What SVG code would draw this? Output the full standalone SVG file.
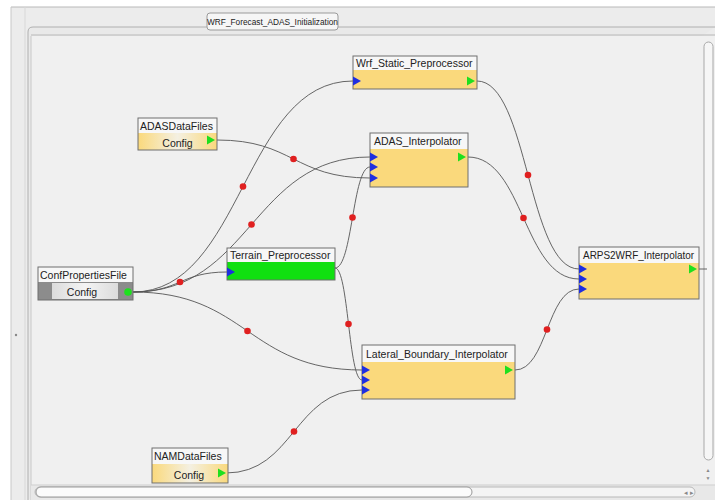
<svg xmlns="http://www.w3.org/2000/svg" width="715" height="500" viewBox="0 0 715 500">
<defs>
<style>
.t{font-family:"Liberation Sans","DejaVu Sans",Arial,sans-serif;font-size:10.5px;fill:#222}
.box{stroke:#6f6f6f;stroke-width:1}
.title{fill:#f7f7f7}
.body{fill:#fad97c}
.in{fill:#1f2fe0}
.out{fill:#1ee01e}
.c{fill:none;stroke:#555;stroke-width:0.9}
.dot{fill:#e02020}
</style>
<linearGradient id="cfg" x1="0" y1="0" x2="1" y2="0">
<stop offset="0" stop-color="#fad97c"/>
<stop offset="0.5" stop-color="#f4f0e2"/>
<stop offset="1" stop-color="#fad97c"/>
</linearGradient>
<linearGradient id="cfgg" x1="0" y1="0" x2="1" y2="0">
<stop offset="0" stop-color="#dcdcdc"/>
<stop offset="0.5" stop-color="#f4f4f4"/>
<stop offset="1" stop-color="#dcdcdc"/>
</linearGradient>
</defs>
<!-- window background -->
<rect x="0" y="0" width="715" height="500" fill="#ffffff"/>
<rect x="11" y="7" width="704" height="493" fill="#ececec"/>
<line x1="11" y1="7" x2="715" y2="7" stroke="#b8b8b8"/>
<line x1="11" y1="7" x2="11" y2="500" stroke="#c8c8c8"/>
<line x1="25" y1="7" x2="25" y2="500" stroke="#d8d8d8"/>
<circle cx="16" cy="335" r="1.2" fill="#888"/>
<!-- panel -->
<path d="M28,500 V32 Q28,27 33,27 H715" fill="#e9e9e9" stroke="#b0b0b0"/>
<line x1="31" y1="35" x2="715" y2="35" stroke="#b8b8b8"/>
<rect x="31" y="36" width="684" height="449" fill="#f0f0f0"/>
<line x1="31" y1="36" x2="31" y2="500" stroke="#c8c8c8"/>
<!-- tab -->
<rect x="207" y="13" width="131" height="17" rx="3" fill="#f6f6f6" stroke="#9a9a9a"/>
<text class="t" x="272.5" y="24.5" text-anchor="middle" style="font-size:8.3px">WRF_Forecast_ADAS_Initialization</text>
<!-- scrollbars -->
<rect x="704" y="42" width="9" height="418" rx="4.5" fill="#f6f6f6" stroke="#a8a8a8"/>
<text x="708" y="472" font-family="Liberation Sans,sans-serif" font-size="5" fill="#888" text-anchor="middle">▲</text>
<text x="708" y="480" font-family="Liberation Sans,sans-serif" font-size="5" fill="#888" text-anchor="middle">▼</text>
<rect x="31" y="485" width="684" height="15" fill="#e8e8e8"/>
<line x1="31" y1="485" x2="715" y2="485" stroke="#cfcfcf"/>
<rect x="35" y="487" width="660" height="10" rx="5" fill="#f4f4f4" stroke="#b8b8b8"/>
<rect x="36" y="487" width="436" height="10" rx="5" fill="#fbfbfb" stroke="#999"/>
<text x="684" y="495" font-family="Liberation Sans,sans-serif" font-size="7" fill="#888">◂ ▸</text>

<!-- connectors -->
<g id="connectors">
<path class="c" d="M133,292 C243,292 243,81 353,81"/>
<path class="c" d="M133,292 C251.5,292 251.5,157 370,157"/>
<path class="c" d="M217,140 C293.5,140 293.5,178 370,178"/>
<path class="c" d="M335,268 C352.5,268 352.5,167 370,167"/>
<path class="c" d="M133,292 C180,292 180,272 227,272"/>
<path class="c" d="M133,292 C247.5,292 247.5,370 362,370"/>
<path class="c" d="M335,268 C348.5,268 348.5,380 362,380"/>
<path class="c" d="M226,473 C294,473 294,390 362,390"/>
<path class="c" d="M477,81 C528,81 528,269 579,269"/>
<path class="c" d="M468,157 C523.5,157 523.5,279 579,279"/>
<path class="c" d="M515,370 C547,370 547,289 579,289"/>
<path class="c" d="M699,269 H707"/>
<circle class="dot" cx="243" cy="186.5" r="3.3"/>
<circle class="dot" cx="251.5" cy="224.5" r="3.3"/>
<circle class="dot" cx="293.5" cy="159" r="3.3"/>
<circle class="dot" cx="352.5" cy="217.5" r="3.3"/>
<circle class="dot" cx="180" cy="282" r="3.3"/>
<circle class="dot" cx="247.5" cy="331" r="3.3"/>
<circle class="dot" cx="348.5" cy="324" r="3.3"/>
<circle class="dot" cx="294" cy="431.5" r="3.3"/>
<circle class="dot" cx="528" cy="175" r="3.3"/>
<circle class="dot" cx="523.5" cy="218" r="3.3"/>
<circle class="dot" cx="547" cy="329.5" r="3.3"/>
</g>

<!-- nodes -->
<g id="Wrf_Static_Preprocessor">
<rect class="body" x="353" y="56" width="124" height="33"/>
<rect class="title" x="353" y="56" width="124" height="14"/>
<rect class="box" x="353" y="56" width="124" height="33" fill="none"/>
<text class="t" x="356" y="67">Wrf_Static_Preprocessor</text>
<polygon class="in" points="353,76.5 361,81 353,85.5"/>
<polygon class="out" points="467,76.5 475,81 467,85.5"/>
</g>

<g id="ADASDataFiles">
<rect fill="url(#cfg)" x="138" y="118" width="79" height="32"/>
<rect class="title" x="138" y="118" width="79" height="15"/>
<rect class="box" x="138" y="118" width="79" height="32" fill="none"/>
<text class="t" x="140" y="129.5">ADASDataFiles</text>
<text class="t" x="177.5" y="146.5" text-anchor="middle">Config</text>
<polygon class="out" points="207,135.5 215,140 207,144.5"/>
</g>
<g id="ADAS_Interpolator">
<rect class="body" x="370" y="133" width="98" height="54"/>
<rect class="title" x="370" y="133" width="98" height="16"/>
<rect class="box" x="370" y="133" width="98" height="54" fill="none"/>
<text class="t" x="374" y="145">ADAS_Interpolator</text>
<polygon class="in" points="370,152.5 378,157 370,161.5"/>
<polygon class="in" points="370,162.5 378,167 370,171.5"/>
<polygon class="in" points="370,173.5 378,178 370,182.5"/>
<polygon class="out" points="458,152.5 466,157 458,161.5"/>
</g>

<g id="ConfPropertiesFile">
<rect fill="#8c8c8c" x="38" y="267" width="95" height="33"/>
<rect class="title" x="38" y="267" width="95" height="15"/>
<rect fill="url(#cfgg)" x="52" y="283" width="66" height="16"/>
<rect class="box" x="38" y="267" width="95" height="33" fill="none"/>
<text class="t" x="40" y="278.5">ConfPropertiesFile</text>
<text class="t" x="82" y="295.5" text-anchor="middle">Config</text>
<circle cx="128" cy="292" r="3.8" fill="#1ee01e"/>
</g>

<g id="Terrain_Preprocessor">
<rect fill="#10e010" x="227" y="248" width="108" height="32"/>
<rect class="title" x="227" y="248" width="108" height="14"/>
<rect class="box" x="227" y="248" width="108" height="32" fill="none"/>
<text class="t" x="230" y="259">Terrain_Preprocessor</text>
<polygon class="in" points="227,267.5 235,272 227,276.5"/>
</g>

<g id="ARPS2WRF_Interpolator">
<rect class="body" x="579" y="247" width="120" height="52"/>
<rect class="title" x="579" y="247" width="120" height="16"/>
<rect class="box" x="579" y="247" width="120" height="52" fill="none"/>
<text class="t" x="583" y="259" textLength="111" lengthAdjust="spacingAndGlyphs">ARPS2WRF_Interpolator</text>
<polygon class="in" points="579,264.5 587,269 579,273.5"/>
<polygon class="in" points="579,274.5 587,279 579,283.5"/>
<polygon class="in" points="579,284.5 587,289 579,293.5"/>
<polygon class="out" points="689,264.5 697,269 689,273.5"/>
</g>

<g id="Lateral_Boundary_Interpolator">
<rect class="body" x="362" y="345" width="153" height="54"/>
<rect class="title" x="362" y="345" width="153" height="17"/>
<rect class="box" x="362" y="345" width="153" height="54" fill="none"/>
<text class="t" x="366" y="357.5">Lateral_Boundary_Interpolator</text>
<polygon class="in" points="362,365.5 370,370 362,374.5"/>
<polygon class="in" points="362,375.5 370,380 362,384.5"/>
<polygon class="in" points="362,385.5 370,390 362,394.5"/>
<polygon class="out" points="505,365.5 513,370 505,374.5"/>
</g>

<g id="NAMDataFiles">
<rect fill="url(#cfg)" x="152" y="448" width="76" height="35"/>
<rect class="title" x="152" y="448" width="76" height="16"/>
<rect class="box" x="152" y="448" width="76" height="35" fill="none"/>
<text class="t" x="154" y="460">NAMDataFiles</text>
<text class="t" x="189" y="478.5" text-anchor="middle">Config</text>
<polygon class="out" points="218,468.5 226,473 218,477.5"/>
</g>
</svg>
